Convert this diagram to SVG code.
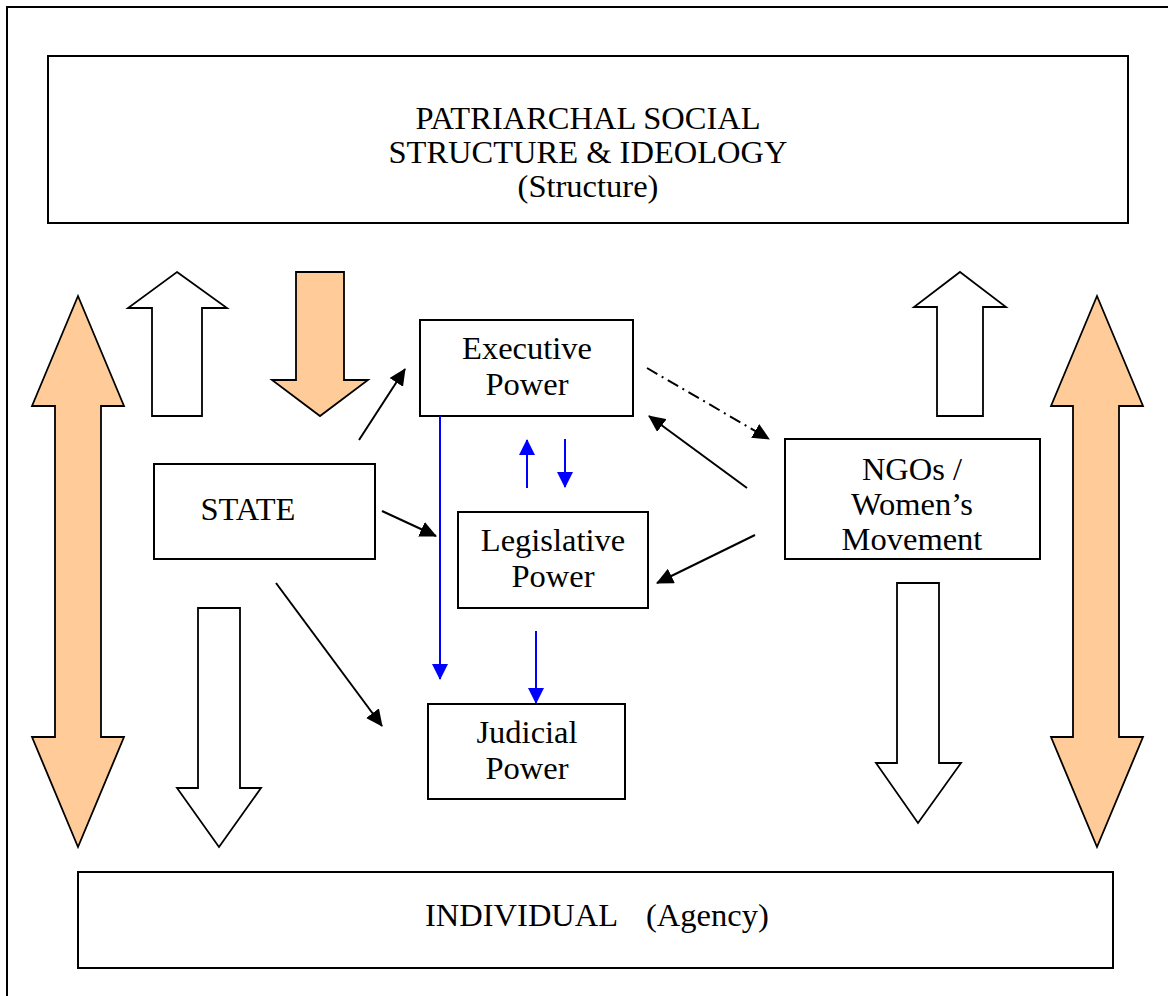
<svg xmlns="http://www.w3.org/2000/svg" width="1168" height="996" viewBox="0 0 1168 996">
<style>
.box{fill:#fff;stroke:#000;stroke-width:2}
.lbl{font-family:"Liberation Serif","Times New Roman",serif;font-size:32.5px;fill:#000;text-anchor:middle}
.blk{fill:#fff;stroke:#000;stroke-width:1.8;stroke-linejoin:miter}
.peach{fill:#FFCC99;stroke:#000;stroke-width:1.8;stroke-linejoin:miter}
.ln{stroke:#000;stroke-width:2;fill:none}
.bl{stroke:#0000FF;stroke-width:2;fill:none}
</style>
<defs>
<marker id="ah" markerUnits="userSpaceOnUse" markerWidth="18" markerHeight="16" refX="16" refY="8" orient="auto"><path d="M0,0 L17,8 L0,16 z" fill="#000"/></marker>
<marker id="ahb" markerUnits="userSpaceOnUse" markerWidth="18" markerHeight="18" refX="15" refY="8" orient="auto"><path d="M0,0 L16,8 L0,16 z" fill="#0000FF"/></marker>
</defs>
<rect width="1168" height="996" fill="#fff"/>
<rect x="7" y="7" width="1175" height="1000" fill="none" stroke="#000" stroke-width="2"/>

<g id="structure">
<rect class="box" x="48" y="56" width="1080" height="167"/>
<text class="lbl" x="588" y="129">PATRIARCHAL SOCIAL</text>
<text class="lbl" x="588" y="163">STRUCTURE &amp; IDEOLOGY</text>
<text class="lbl" x="588" y="197">(Structure)</text>
</g>

<g id="individual">
<rect class="box" x="78" y="872" width="1035" height="96"/>
<text class="lbl" style="text-anchor:start" y="926"><tspan x="425">INDIVIDUAL</tspan><tspan x="646">(Agency)</tspan></text>
</g>

<g id="block-arrows">
<polygon class="peach" points="78,296 124,406 101,406 101,737 124,737 78,847 32,737 55,737 55,406 32,406"/>
<polygon class="peach" points="1097,296 1143,406 1119,406 1119,737 1143,737 1097,847 1051,737 1073,737 1073,406 1051,406"/>
<polygon class="blk" points="177,272 227,308 202,308 202,416 152,416 152,308 128,308"/>
<polygon class="peach" points="296,272 344,272 344,380 368,380 320,416 272,380 296,380"/>
<polygon class="blk" points="198,608 240,608 240,788 261,788 219,847 177,788 198,788"/>
<polygon class="blk" points="960,272 1006,307 983,307 983,416 937,416 937,307 914,307"/>
<polygon class="blk" points="897,583 939,583 939,763 961,763 918,823 876,763 897,763"/>
</g>

<g id="state">
<rect class="box" x="154" y="464" width="221" height="95"/>
<text class="lbl" x="248" y="520">STATE</text>
</g>

<g id="executive">
<rect class="box" x="420" y="320" width="213" height="96"/>
<text class="lbl" x="527" y="359">Executive</text>
<text class="lbl" x="527" y="395">Power</text>
</g>

<g id="legislative">
<rect class="box" x="458" y="512" width="190" height="96"/>
<text class="lbl" x="553" y="551">Legislative</text>
<text class="lbl" x="553" y="587">Power</text>
</g>

<g id="judicial">
<rect class="box" x="428" y="704" width="197" height="95"/>
<text class="lbl" x="527" y="743">Judicial</text>
<text class="lbl" x="527" y="779">Power</text>
</g>

<g id="ngos">
<rect class="box" x="785" y="439" width="255" height="120"/>
<text class="lbl" x="912" y="480">NGOs /</text>
<text class="lbl" x="912" y="515">Women’s</text>
<text class="lbl" x="912" y="550">Movement</text>
</g>

<g id="connectors">
<line class="ln" x1="359" y1="440" x2="405" y2="369" marker-end="url(#ah)"/>
<line class="ln" x1="382" y1="511" x2="436" y2="536" marker-end="url(#ah)"/>
<line class="ln" x1="276" y1="583" x2="382" y2="726" marker-end="url(#ah)"/>
<line class="bl" x1="440" y1="416" x2="440" y2="679" marker-end="url(#ahb)"/>
<line class="bl" x1="527" y1="488" x2="527" y2="440" marker-end="url(#ahb)"/>
<line class="bl" x1="565" y1="439" x2="565" y2="487" marker-end="url(#ahb)"/>
<line class="bl" x1="536" y1="631" x2="536" y2="703" marker-end="url(#ahb)"/>
<line class="ln" x1="647" y1="368" x2="769" y2="439" stroke-dasharray="12,5,2,5" marker-end="url(#ah)"/>
<line class="ln" x1="747" y1="488" x2="649" y2="416" marker-end="url(#ah)"/>
<line class="ln" x1="755" y1="535" x2="657" y2="583" marker-end="url(#ah)"/>
</g>
</svg>
